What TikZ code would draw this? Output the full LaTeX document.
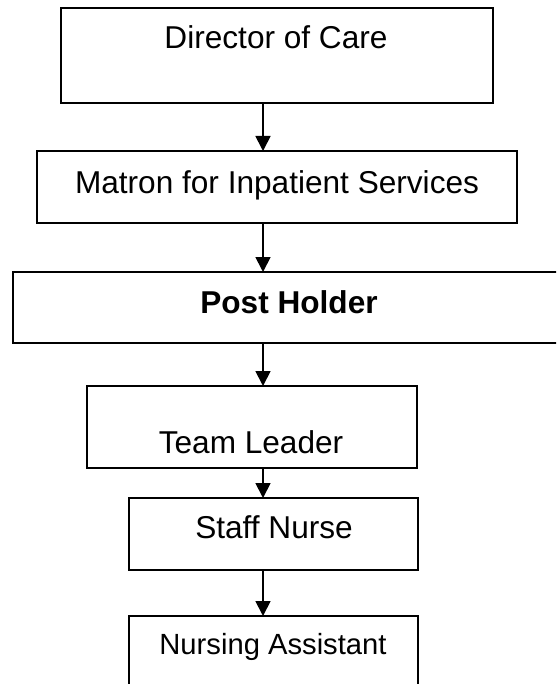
\documentclass[tikz,border=0pt]{standalone}
\usepackage{fontspec}
\setmainfont{Liberation Sans}
\usetikzlibrary{arrows.meta}
\tikzset{
    post/.style={draw, rectangle, line width=1pt, inner sep=0pt, outer sep=0pt},
    title/.style={anchor=base, inner sep=0pt, font=\fontsize{15.8}{19}\selectfont},
    reports/.style={-{Triangle[length=7.5pt, width=7.5pt]}, line width=0.9pt},
}

\begin{document}
\begin{tikzpicture}[x=0.5pt, y=-0.5pt]
\useasboundingbox (0,0) rectangle (556,684);
\clip (0,0) rectangle (556,684);
\coordinate (spine) at (263,0);
% boxes
\node[post, minimum width=216pt, minimum height=47.5pt] (director) at (277,55.5) {};
\node[post, minimum width=240pt, minimum height=36pt] (matron) at (277,187) {};
\node[post, minimum width=276pt, minimum height=35.5pt] (holder) at (289,307.5) {};
\node[post, minimum width=165pt, minimum height=41pt] (leader) at (252,427) {};
\node[post, minimum width=144.5pt, minimum height=36pt] (nurse) at (273.5,534) {};
\node[post, minimum width=144.5pt, minimum height=37pt] (assistant) at (273.5,653) {};
% titles
\node[title] (directorname) at (276,49) {Director of Care};
\node[title] (matronname) at (277,193) {Matron for Inpatient Services};
\node[title, font=\fontsize{15.8}{19}\selectfont\bfseries] (holdername) at (289,313) {Post Holder};
\node[title] (leadername) at (251,453) {Team Leader};
\node[title] (nursename) at (274,538) {Staff Nurse};
\node[title, font=\fontsize{14.6}{17}\selectfont] (assistantname) at (273,654) {Nursing Assistant};
% lines of report
\draw[reports] (director.south -| spine) -- (matron.north -| spine);
\draw[reports] (matron.south -| spine) -- (holder.north -| spine);
\draw[reports] (holder.south -| spine) -- (leader.north -| spine);
\draw[reports] (leader.south -| spine) -- (nurse.north -| spine);
\draw[reports] (nurse.south -| spine) -- (assistant.north -| spine);
\end{tikzpicture}
\end{document}
